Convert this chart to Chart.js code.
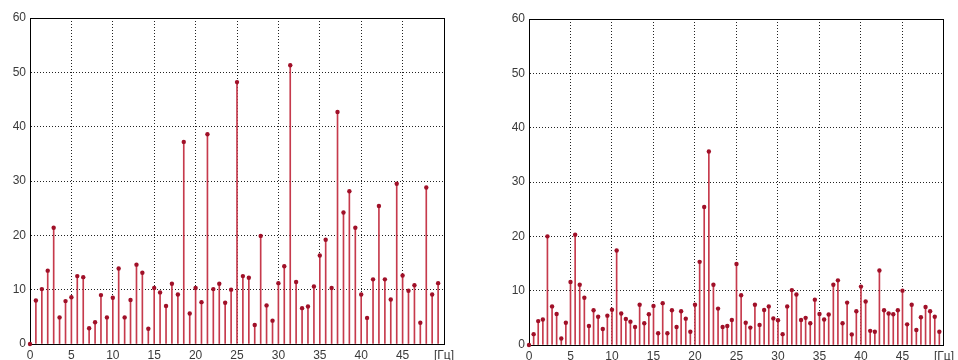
<!DOCTYPE html>
<html>
<head>
<meta charset="utf-8">
<script src="https://cdn.jsdelivr.net/npm/chart.js@4/dist/chart.umd.min.js"></script>
<style>
  html, body { margin: 0; padding: 0; background: #fff; }
  #wrap { position: relative; width: 958px; height: 360px; overflow: hidden; background: #fff; }
  #c1 { position: absolute; left: 0; top: 0; }
  #c2 { position: absolute; left: 480px; top: 0; }
</style>
</head>
<body>
<div id="wrap">
  <canvas id="c1" width="480" height="360"></canvas>
  <canvas id="c2" width="478" height="360"></canvas>
</div>
<script>
// Frequency bins (Hz) of the left spectrum
const leftFreqs = [
  0, 0.71, 1.43, 2.14, 2.86, 3.57, 4.29,
  5, 5.71, 6.43, 7.14, 7.86, 8.57, 9.29,
  10, 10.71, 11.43, 12.14, 12.86, 13.57, 14.29,
  15, 15.71, 16.43, 17.14, 17.86, 18.57, 19.29,
  20, 20.71, 21.43, 22.14, 22.86, 23.57, 24.29,
  25, 25.71, 26.43, 27.14, 27.86, 28.57, 29.29,
  30, 30.71, 31.43, 32.14, 32.86, 33.57, 34.29,
  35, 35.71, 36.43, 37.14, 37.86, 38.57, 39.29,
  40, 40.71, 41.43, 42.14, 42.86, 43.57, 44.29,
  45, 45.71, 46.43, 47.14, 47.86, 48.57, 49.29
];
// Amplitudes of the left spectrum
const leftValues = [
  0, 8.0, 10.1, 13.5, 21.4, 4.9, 7.9,
  8.6, 12.5, 12.3, 2.9, 4.0, 9.0, 4.9,
  8.5, 13.9, 4.9, 8.1, 14.6, 13.1, 2.8,
  10.3, 9.5, 7.0, 11.1, 9.1, 37.2, 5.6,
  10.3, 7.7, 38.6, 10.1, 11.1, 7.6, 10.0,
  48.2, 12.5, 12.2, 3.5, 19.9, 7.1, 4.3,
  11.2, 14.3, 51.3, 11.4, 6.6, 6.9, 10.6,
  16.3, 19.2, 10.3, 42.7, 24.2, 28.1, 21.4,
  9.1, 4.8, 11.9, 25.4, 11.9, 8.2, 29.5,
  12.6, 9.8, 10.8, 3.9, 28.8, 9.1, 11.2
];
// Frequency bins (Hz) of the right spectrum
const rightFreqs = [
  0, 0.56, 1.11, 1.67, 2.22, 2.78, 3.33, 3.89, 4.44,
  5, 5.56, 6.11, 6.67, 7.22, 7.78, 8.33, 8.89, 9.44,
  10, 10.56, 11.11, 11.67, 12.22, 12.78, 13.33, 13.89, 14.44,
  15, 15.56, 16.11, 16.67, 17.22, 17.78, 18.33, 18.89, 19.44,
  20, 20.56, 21.11, 21.67, 22.22, 22.78, 23.33, 23.89, 24.44,
  25, 25.56, 26.11, 26.67, 27.22, 27.78, 28.33, 28.89, 29.44,
  30, 30.56, 31.11, 31.67, 32.22, 32.78, 33.33, 33.89, 34.44,
  35, 35.56, 36.11, 36.67, 37.22, 37.78, 38.33, 38.89, 39.44,
  40, 40.56, 41.11, 41.67, 42.22, 42.78, 43.33, 43.89, 44.44,
  45, 45.56, 46.11, 46.67, 47.22, 47.78, 48.33, 48.89, 49.44
];
// Amplitudes of the right spectrum
const rightValues = [
  0, 2.0, 4.4, 4.7, 20.0, 7.1, 5.7, 1.2, 4.1,
  11.6, 20.3, 11.1, 8.7, 3.5, 6.4, 5.2, 2.95, 5.4,
  6.5, 17.4, 5.8, 4.8, 4.3, 3.3, 7.4, 4.0, 5.65,
  7.2, 2.15, 7.7, 2.15, 6.4, 3.3, 6.2, 4.85, 2.45,
  7.4, 15.3, 25.4, 35.6, 11.1, 6.7, 3.3, 3.5, 4.6,
  14.9, 9.15, 4.1, 3.2, 7.4, 3.7, 6.45, 7.1, 4.9,
  4.55, 2.0, 7.1, 10.1, 9.3, 4.6, 5.0, 4.0, 8.35,
  5.7, 4.7, 5.6, 11.1, 11.9, 4.0, 7.8, 1.95, 6.2,
  10.75, 8.0, 2.6, 2.45, 13.7, 6.4, 5.8, 5.65, 6.4,
  10.0, 3.8, 7.4, 2.75, 5.1, 7.0, 6.2, 5.2, 2.45
];
// Axis ticks
const xTicks = [0, 5, 10, 15, 20, 25, 30, 35, 40, 45, 50];
const yTicks = [0, 10, 20, 30, 40, 50, 60];
const unitLabel = '[Гц]';

const STEM = 'rgb(198,58,76)';
const MARK = 'rgb(160,16,40)';
const TICK_FONT = { family: "'Liberation Sans', Arial, sans-serif", size: 12 };
const TICK_COLOR = '#3a3a3a';

function makeChart(canvasId, freqs, values, pad, xHeight) {
  const pts = freqs.map((f, i) => ({ x: f, y: values[i] }));
  return new Chart(document.getElementById(canvasId), {
    type: 'bar',
    data: {
      datasets: [
        {
          type: 'scatter',
          data: pts,
          order: 0,
          clip: 6,
          pointRadius: 2.2,
          pointHoverRadius: 2.2,
          pointStyle: 'circle',
          backgroundColor: MARK,
          borderColor: MARK,
          borderWidth: 0,
          showLine: false
        },
        {
          type: 'bar',
          data: pts,
          order: 1,
          barThickness: 1,
          backgroundColor: STEM,
          borderWidth: 0
        }
      ]
    },
    options: {
      responsive: false,
      animation: false,
      events: [],
      layout: { padding: pad },
      plugins: { legend: { display: false }, tooltip: { enabled: false } },
      scales: {
        x: {
          type: 'linear',
          position: 'bottom',
          min: xTicks[0],
          max: xTicks[xTicks.length - 1],
          offset: false,
          afterBuildTicks: s => { s.ticks = xTicks.map(v => ({ value: v })); },
          afterFit: s => { s.height = xHeight; },
          ticks: {
            autoSkip: false,
            maxRotation: 0,
            padding: 4,
            font: TICK_FONT,
            color: TICK_COLOR,
            callback: v => (v === 50 ? unitLabel : String(v))
          },
          grid: { color: '#222', lineWidth: 1, drawTicks: false, offset: false },
          border: { display: true, color: '#000', width: 1, dash: [1, 2] }
        },
        y: {
          type: 'linear',
          position: 'left',
          min: yTicks[0],
          max: yTicks[yTicks.length - 1],
          afterBuildTicks: s => { s.ticks = yTicks.map(v => ({ value: v })); },
          afterFit: s => { s.width = 30; },
          ticks: { padding: 4, font: TICK_FONT, color: TICK_COLOR },
          grid: { color: '#222', lineWidth: 1, drawTicks: false },
          border: { display: true, color: '#000', width: 1, dash: [1, 2] }
        },
        xTop: {
          type: 'linear',
          position: 'top',
          min: 0, max: 50,
          afterFit: s => { s.height = 0; },
          ticks: { display: false },
          grid: { display: false, drawTicks: false },
          border: { display: true, color: '#000', width: 1 }
        },
        yRight: {
          type: 'linear',
          position: 'right',
          min: 0, max: 60,
          afterFit: s => { s.width = 0; },
          ticks: { display: false },
          grid: { display: false, drawTicks: false },
          border: { display: true, color: '#000', width: 1 }
        }
      }
    }
  });
}

makeChart('c1', leftFreqs, leftValues, { top: 18, right: 36, bottom: 0, left: 0 }, 16);
makeChart('c2', rightFreqs, rightValues, { top: 19, right: 14, bottom: 0, left: 19 }, 15);
</script>
</body>
</html>
